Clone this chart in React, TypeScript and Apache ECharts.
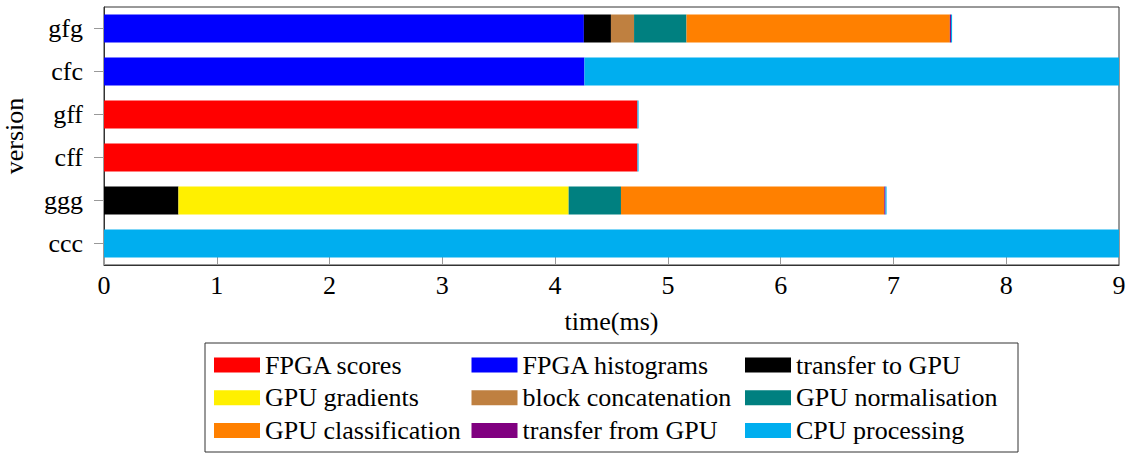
import React, { useEffect, useRef } from "react";
import * as echarts from "echarts";

// categories listed top to bottom
const versions = ["gfg", "cfc", "gff", "cff", "ggg", "ccc"];
const xTicks = [0, 1, 2, 3, 4, 5, 6, 7, 8, 9];

const seriesNames = [
  "FPGA scores",
  "FPGA histograms",
  "transfer to GPU",
  "GPU gradients",
  "block concatenation",
  "GPU normalisation",
  "GPU classification",
  "transfer from GPU",
  "CPU processing",
];
const seriesColors = [
  "#FF0000",
  "#0000FF",
  "#000000",
  "#FFF000",
  "#BF8040",
  "#008080",
  "#FF8000",
  "#800080",
  "#00AEEF",
];

//                    gfg    cfc   gff   cff   ggg   ccc
const fpgaScores = [0, 0, 4.73, 4.73, 0, 0];
const fpgaHistograms = [4.255, 4.26, 0, 0, 0, 0];
const transferToGpu = [0.24, 0, 0, 0, 0.66, 0];
const gpuGradients = [0, 0, 0, 0, 3.46, 0];
const blockConcat = [0.205, 0, 0, 0, 0, 0];
const gpuNormalisation = [0.465, 0, 0, 0, 0.464, 0];
const gpuClassification = [2.335, 0, 0, 0, 2.335, 0];
const transferFromGpu = [0.01, 0, 0, 0, 0.01, 0];
const cpuProcessing = [0.01, 5.2, 0.01, 0.01, 0.01, 9.8];

const seriesValues = [
  fpgaScores,
  fpgaHistograms,
  transferToGpu,
  gpuGradients,
  blockConcat,
  gpuNormalisation,
  gpuClassification,
  transferFromGpu,
  cpuProcessing,
];

const legendColumns = [
  ["FPGA scores", "GPU gradients", "GPU classification"],
  ["FPGA histograms", "block concatenation", "transfer from GPU"],
  ["transfer to GPU", "GPU normalisation", "CPU processing"],
];

const FONT = "serif";
const FS = 26;

export default function App() {
  const ref = useRef<HTMLDivElement>(null);
  useEffect(() => {
    if (!ref.current) return;
    const chart = echarts.init(ref.current, undefined, { renderer: "svg" });
    const legendLefts = [214, 471.5, 745];
    chart.setOption({
      animation: false,
      backgroundColor: "#ffffff",
      textStyle: { fontFamily: FONT },
      grid: {
        left: 104,
        right: 14,
        top: 7,
        height: 258,
        containLabel: false,
        outerBoundsMode: "none",
        show: true,
        borderColor: "#333333",
        borderWidth: 1,
        backgroundColor: "transparent",
      },
      xAxis: {
        type: "value",
        min: 0,
        max: 9,
        interval: 1,
        name: "time(ms)",
        nameLocation: "middle",
        nameGap: 43,
        nameTextStyle: { fontFamily: FONT, fontSize: FS, color: "#000" },
        axisLine: { show: true, lineStyle: { color: "#333", width: 1 } },
        axisTick: {
          show: true,
          inside: true,
          length: 8,
          lineStyle: { color: "#999" },
        },
        axisLabel: {
          fontFamily: FONT,
          fontSize: FS,
          color: "#000",
          margin: 7,
          formatter: (v: number) => (xTicks.includes(v) ? String(v) : ""),
        },
        splitLine: { show: false },
      },
      yAxis: {
        type: "category",
        data: versions,
        inverse: true,
        name: "version",
        nameLocation: "middle",
        nameGap: 77,
        nameRotate: 90,
        nameTextStyle: { fontFamily: FONT, fontSize: FS, color: "#000" },
        axisLine: { show: true, lineStyle: { color: "#333", width: 1 } },
        axisTick: {
          show: true,
          inside: false,
          length: 10,
          alignWithLabel: true,
          lineStyle: { color: "#999" },
        },
        axisLabel: {
          fontFamily: FONT,
          fontSize: FS,
          color: "#000",
          margin: 21,
        },
      },
      legend: legendColumns.map((col, i) => ({
        data: col,
        orient: "vertical",
        left: legendLefts[i],
        top: 352,
        padding: 0,
        itemWidth: 46,
        itemHeight: 15,
        itemGap: 6.7,
        icon: "rect",
        selectedMode: false,
        textStyle: { fontFamily: FONT, fontSize: FS, color: "#000" },
      })),
      graphic: [
        {
          type: "rect",
          shape: { x: 205, y: 343, width: 813, height: 109 },
          style: { fill: "none", stroke: "#333", lineWidth: 1 },
          silent: true,
        },
      ],
      series: seriesNames.map((name, i) => ({
        name,
        type: "bar",
        stack: "total",
        barWidth: 28,
        clip: true,
        itemStyle: { color: seriesColors[i] },
        data: seriesValues[i],
      })),
    });
    return () => chart.dispose();
  }, []);
  return (
    <div
      ref={ref}
      style={{ position: "fixed", left: 0, top: 0, width: 1133, height: 455 }}
    />
  );
}
